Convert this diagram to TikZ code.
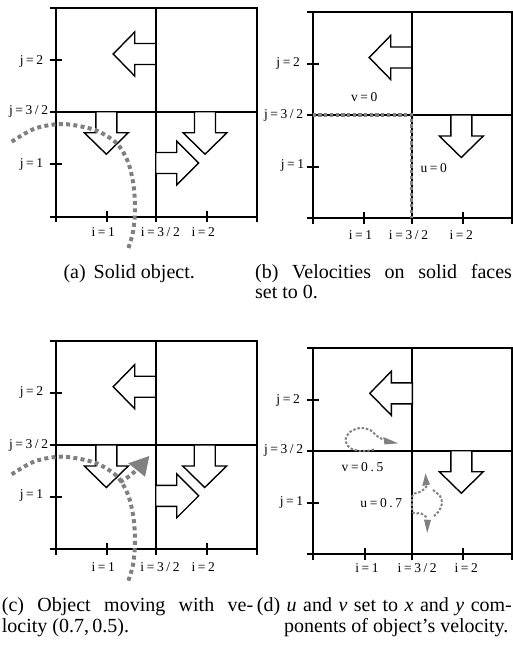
\documentclass[tikz,border=0pt]{standalone}
\usepackage{fontspec}
\setmainfont{Liberation Serif}
\definecolor{dotgray}{RGB}{128,128,128}
\newcommand{\Kx}{\kern2.6pt}
\newcommand{\lblfs}{\fontsize{13.5}{15}\selectfont}
\newcommand{\capfs}{\fontsize{20}{24}\selectfont}
\tikzset{
  gridln/.style={line width=1.8pt},
  blkarr/.style={draw=black, fill=white, line width=1.4pt, line join=miter},
  objcurve/.style={draw=dotgray, line width=4pt, dash pattern=on 4pt off 3.3pt},
  facedots/.style={draw=dotgray, line width=3.2pt, dash pattern=on 3.3pt off 2.4pt},
  smalldots/.style={draw=dotgray, line width=2pt, dash pattern=on 2.5pt off 1.8pt},
  lbl/.style={inner sep=0pt, font=\lblfs},
  capt/.style={inner sep=0pt, font=\capfs, anchor=base west}
}
% grid panel: L M R T Mi B
\newcommand{\panel}[6]{%
  \draw[gridln] (#1,#4) rectangle (#3,#6);
  \draw[gridln] (#2,#4) -- (#2,#6+5.5);
  \draw[gridln] (#1-6,#5) -- (#3,#5);
  \draw[gridln] (#1-6,#4) -- (#1,#4);
  \draw[gridln] (#1-6,#6) -- (#1,#6);
  \draw[gridln] (#1,#6) -- (#1,#6+5.5);
  \draw[gridln] (#3,#6) -- (#3,#6+5.5);
  \draw[gridln] (#1-6,#4+52) -- (#1+6,#4+52);
  \draw[gridln] (#1-6,#5+52) -- (#1+6,#5+52);
  \draw[gridln] (#1+51.5,#6-6) -- (#1+51.5,#6+5.5);
  \draw[gridln] (#2+51,#6-6) -- (#2+51,#6+5.5);
}
\newcommand{\arrL}[2]{\draw[blkarr] (#1,#2-10.5) -- (#1-21,#2-10.5) -- (#1-21,#2-22) -- (#1-42.5,#2) -- (#1-21,#2+22) -- (#1-21,#2+10.5) -- (#1,#2+10.5) -- cycle;}
\newcommand{\arrR}[2]{\draw[blkarr] (#1,#2-10.5) -- (#1+21,#2-10.5) -- (#1+21,#2-22) -- (#1+43,#2) -- (#1+21,#2+22) -- (#1+21,#2+10.5) -- (#1,#2+10.5) -- cycle;}
\newcommand{\arrD}[2]{\draw[blkarr] (#1-10.5,#2) -- (#1-10.5,#2+21) -- (#1-22,#2+21) -- (#1,#2+42.5) -- (#1+22,#2+21) -- (#1+10.5,#2+21) -- (#1+10.5,#2) -- cycle;}
\newcommand{\curvepts}{(11.7,141.7) (35,128.5) (63,124) (95,130) (116.7,143.3) (128,162) (133.5,185) (135,210) (133,232) (128.3,248.3)}
\begin{document}
\begin{tikzpicture}[x=1pt,y=-1pt]
\useasboundingbox (0,0) rectangle (513,649);

% ---------------- (a)
\panel{55.7}{155.7}{256.7}{8.3}{111.7}{216.7}
\arrL{155.7}{54}
\arrD{106.3}{111.7}
\arrD{205}{111.7}
\arrR{155.7}{163}
\draw[objcurve] plot[smooth] coordinates {\curvepts};
\node[lbl, anchor=east] (a-j2) at (43.3,61) {j\Kx=\Kx2};
\node[lbl, anchor=east] (a-j32) at (48.3,111.7) {j\Kx=\Kx3\Kx/\Kx2};
\node[lbl, anchor=east] (a-j1) at (43.3,164.3) {j\Kx=\Kx1};
\node[lbl] (a-i1) at (103.3,231.7) {i\Kx=\Kx1};
\node[lbl] (a-i32) at (160.3,231.7) {i\Kx=\Kx3\Kx/\Kx2};
\node[lbl] (a-i2) at (203.3,231.7) {i\Kx=\Kx2};

% ---------------- (b)
\panel{312.7}{411.7}{511.7}{11.7}{115}{218.3}
\arrL{411.7}{57.5}
\arrD{461.3}{115}
\draw[facedots] (312.7,115) -- (411.7,115) -- (411.7,218.3);
\node[lbl, anchor=east] (b-j2) at (300,63.3) {j\Kx=\Kx2};
\node[lbl, anchor=east] (b-j32) at (303.3,115) {j\Kx=\Kx3\Kx/\Kx2};
\node[lbl, anchor=east] (b-j1) at (304.3,165) {j\Kx=\Kx1};
\node[lbl] (b-i1) at (360.5,235) {i\Kx=\Kx1};
\node[lbl] (b-i32) at (408.5,235) {i\Kx=\Kx3\Kx/\Kx2};
\node[lbl] (b-i2) at (461.3,235) {i\Kx=\Kx2};
\node[lbl] (b-v) at (364.2,96.7) {v\Kx=\Kx0};
\node[lbl] (b-u) at (433.8,168.3) {u\Kx=\Kx0};

% ---------------- (c)
\panel{55.7}{155.7}{256.7}{341}{445}{549}
\arrL{155.7}{386.7}
\arrD{106.3}{445}
\arrD{204.7}{445}
\arrR{155.7}{495.8}
\begin{scope}[shift={(0,332.7)}]
\draw[objcurve] plot[smooth] coordinates {\curvepts};
\end{scope}
\draw[objcurve] (120,482) .. controls (127,478) .. (136.7,470);
\fill[dotgray] (149.3,456) -- (128.3,463.3) -- (145,476.7) -- cycle;
\node[lbl, anchor=east] (c-j2) at (43.3,392.7) {j\Kx=\Kx2};
\node[lbl, anchor=east] (c-j32) at (48.3,445) {j\Kx=\Kx3\Kx/\Kx2};
\node[lbl, anchor=east] (c-j1) at (43.3,495.7) {j\Kx=\Kx1};
\node[lbl] (c-i1) at (103.3,566.7) {i\Kx=\Kx1};
\node[lbl] (c-i32) at (160,566.7) {i\Kx=\Kx3\Kx/\Kx2};
\node[lbl] (c-i2) at (203.3,566.7) {i\Kx=\Kx2};

% ---------------- (d)
\panel{313.3}{412.3}{511.7}{348.3}{450.7}{554.3}
\arrL{412.3}{393.3}
\arrD{461.3}{450.7}
\draw[smalldots] plot[smooth] coordinates {(374,449.5) (362,451.3) (350,448) (345.5,440) (350,432) (360,428) (370,430) (377,436) (383,439.5)};
\fill[dotgray] (398.3,443.3) -- (383.3,437) -- (384.5,444.5) -- cycle;
\draw[smalldots] plot[smooth] coordinates {(427,486) (421,491.5) (413,494.5) (412,503) (413,512.5) (421,513.5) (427.5,518)};
\fill[dotgray] (425.5,473.5) -- (422.3,486) -- (430,484.5) -- cycle;
\fill[dotgray] (427.2,533) -- (424,519.5) -- (431,520) -- cycle;
\draw[smalldots] plot[smooth] coordinates {(433,490) (440,496) (442,503) (439,511) (434,516)};
\node[lbl, anchor=east] (d-j2) at (300,400) {j\Kx=\Kx2};
\node[lbl, anchor=east] (d-j32) at (303.3,450.7) {j\Kx=\Kx3\Kx/\Kx2};
\node[lbl, anchor=east] (d-j1) at (303.3,502.7) {j\Kx=\Kx1};
\node[lbl] (d-i1) at (367,568.3) {i\Kx=\Kx1};
\node[lbl] (d-i32) at (417.2,568.3) {i\Kx=\Kx3\Kx/\Kx2};
\node[lbl] (d-i2) at (466.3,568.3) {i\Kx=\Kx2};
\node[lbl] (d-v) at (362.5,466.7) {v\Kx=\Kx0\Kx.\Kx5};
\node[lbl] (d-u) at (381.3,503.3) {u\Kx=\Kx0\Kx.\Kx7};

% ---------------- captions
\node[capt] (capA) at (63.3,278) {(a)\hspace{3pt} Solid object.};
\node[capt] (capB1) at (255,278) {\makebox[256.7pt][s]{(b) Velocities on solid faces}};
\node[capt] (capB2) at (255,298.5) {set to 0.};
\node[capt] (capC1) at (1.7,611) {\makebox[251.3pt][s]{(c) Object moving with ve-}};
\node[capt] (capC2) at (1.7,632) {locity (0.7,\,0.5).};
\node[capt] (capD1) at (256.7,611) {\makebox[255pt][s]{(d) \textit{u} and \textit{v} set to \textit{x} and \textit{y} com-}};
\node[capt] (capD2) at (284,632) {ponents of object’s velocity.};
\end{tikzpicture}
\end{document}
